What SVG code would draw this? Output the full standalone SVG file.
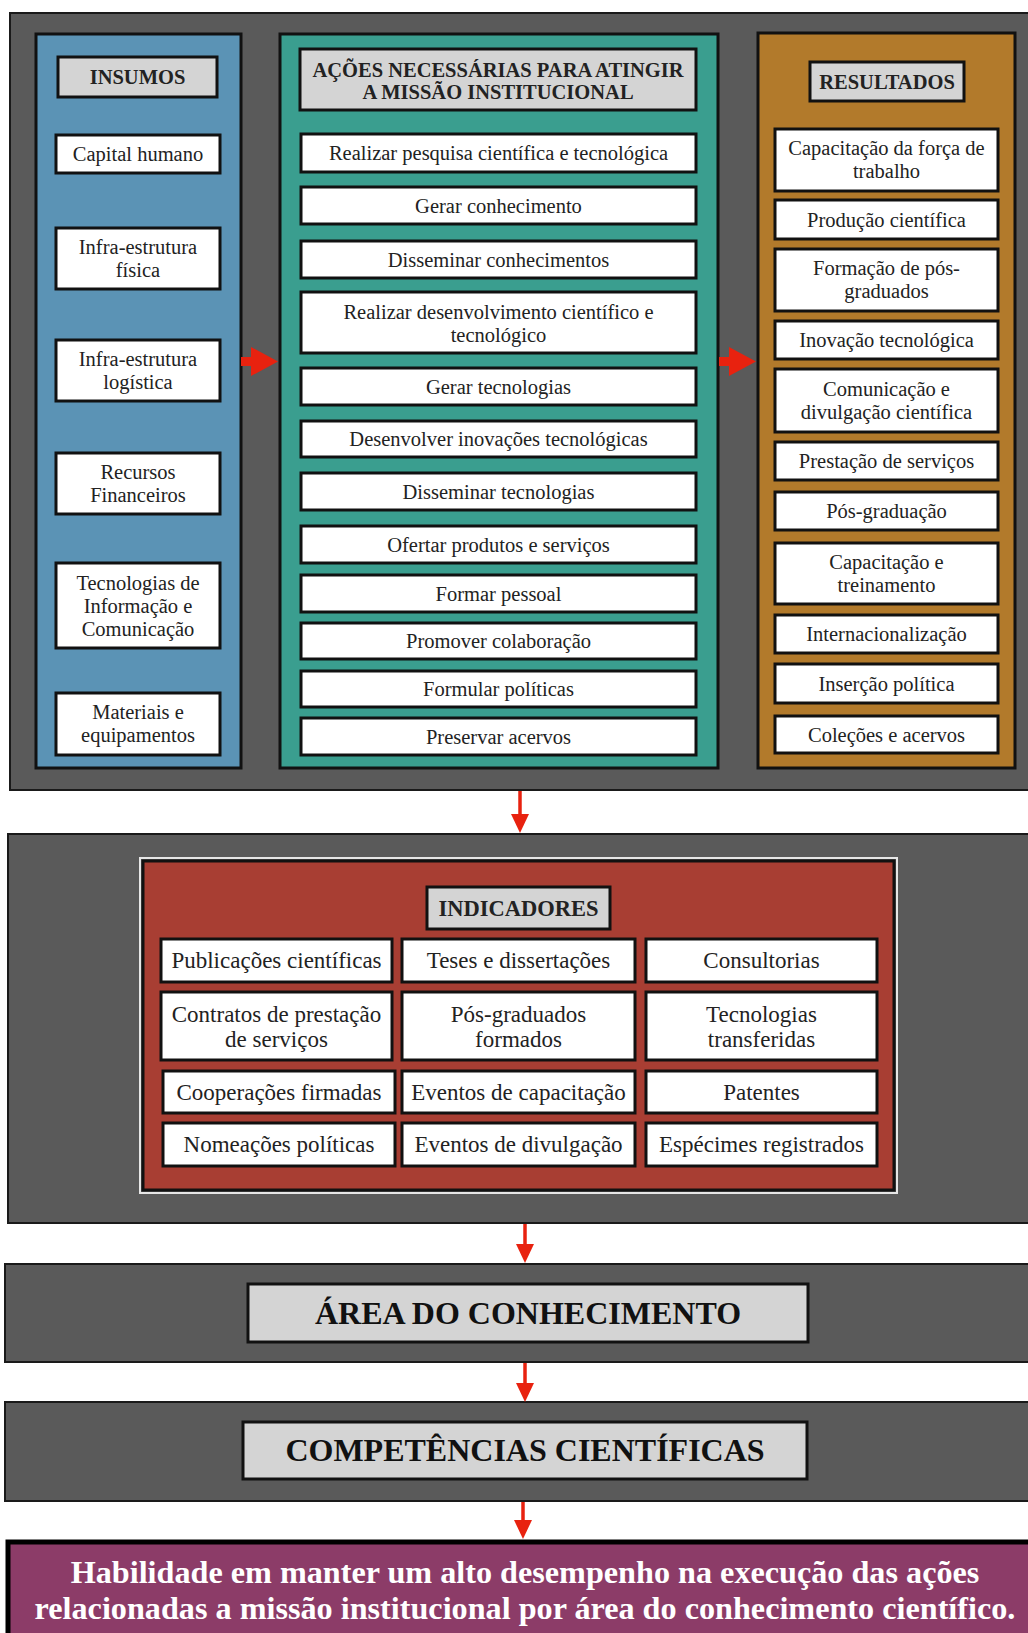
<svg xmlns="http://www.w3.org/2000/svg" width="1028" height="1633" viewBox="0 0 1028 1633">
<style>
.panel{fill:#5a5a5a;stroke:#1a1a1a;stroke-width:2}
.col{stroke:#111;stroke-width:3}
.box{fill:#fff;stroke:#111;stroke-width:3}
.hdr{fill:#d4d4d4;stroke:#111;stroke-width:3}
.t{font-family:"Liberation Serif","Times New Roman",serif;font-size:20.5px;fill:#222;text-anchor:middle}
.ti{font-family:"Liberation Serif","Times New Roman",serif;font-size:23px;fill:#222;text-anchor:middle}
.h{font-family:"Liberation Serif","Times New Roman",serif;font-size:20.5px;font-weight:bold;fill:#222;text-anchor:middle}
.hb{font-family:"Liberation Serif","Times New Roman",serif;font-size:32px;font-weight:bold;fill:#111;text-anchor:middle}
.w{font-family:"Liberation Serif","Times New Roman",serif;font-size:32.2px;font-weight:bold;fill:#fff;text-anchor:middle}
.arr{fill:#e8220f}
.ln{stroke:#e8220f;stroke-width:3.5}
</style>

<!-- Background panels -->
<g id="panel-top"><rect class="panel" x="10" y="13" width="1030" height="777"/></g>
<g id="panel-indicadores"><rect class="panel" x="8" y="834" width="1030" height="389"/></g>
<g id="panel-area"><rect class="panel" x="5" y="1264" width="1030" height="98"/></g>
<g id="panel-competencias"><rect class="panel" x="5" y="1402" width="1030" height="99"/></g>

<!-- INSUMOS -->
<g id="insumos">
<rect class="col" x="36" y="34" width="205" height="734" fill="#5b93b5"/>
<rect class="hdr" x="58" y="57" width="159" height="40"/>
<text class="h" x="137.5" y="84">INSUMOS</text>
<rect class="box" x="56" y="135" width="164" height="38"/>
<text class="t" x="138" y="161">Capital humano</text>
<rect class="box" x="56" y="228" width="164" height="61"/>
<text class="t" x="138" y="254">Infra-estrutura</text><text class="t" x="138" y="277">física</text>
<rect class="box" x="56" y="340" width="164" height="61"/>
<text class="t" x="138" y="366">Infra-estrutura</text><text class="t" x="138" y="389">logística</text>
<rect class="box" x="56" y="453" width="164" height="61"/>
<text class="t" x="138" y="479">Recursos</text><text class="t" x="138" y="502">Financeiros</text>
<rect class="box" x="56" y="563" width="164" height="85"/>
<text class="t" x="138" y="590">Tecnologias de</text><text class="t" x="138" y="613">Informação e</text><text class="t" x="138" y="636">Comunicação</text>
<rect class="box" x="56" y="693" width="164" height="62"/>
<text class="t" x="138" y="719">Materiais e</text><text class="t" x="138" y="742">equipamentos</text>
</g>

<!-- ACOES -->
<g id="acoes">
<rect class="col" x="280" y="34" width="438" height="734" fill="#3a9e8f"/>
<rect class="hdr" x="300" y="49" width="396" height="61"/>
<text class="h" x="498" y="77">AÇÕES NECESSÁRIAS PARA ATINGIR</text>
<text class="h" x="498" y="99">A MISSÃO INSTITUCIONAL</text>
<rect class="box" x="301" y="134" width="395" height="38"/>
<text class="t" x="498.5" y="160">Realizar pesquisa científica e tecnológica</text>
<rect class="box" x="301" y="187" width="395" height="37"/>
<text class="t" x="498.5" y="212.5">Gerar conhecimento</text>
<rect class="box" x="301" y="241" width="395" height="37"/>
<text class="t" x="498.5" y="266.5">Disseminar conhecimentos</text>
<rect class="box" x="301" y="292" width="395" height="61"/>
<text class="t" x="498.5" y="318.5">Realizar desenvolvimento científico e</text><text class="t" x="498.5" y="341.5">tecnológico</text>
<rect class="box" x="301" y="368" width="395" height="37"/>
<text class="t" x="498.5" y="393.5">Gerar tecnologias</text>
<rect class="box" x="301" y="421" width="395" height="36"/>
<text class="t" x="498.5" y="446">Desenvolver inovações tecnológicas</text>
<rect class="box" x="301" y="473" width="395" height="37"/>
<text class="t" x="498.5" y="498.5">Disseminar tecnologias</text>
<rect class="box" x="301" y="526" width="395" height="37"/>
<text class="t" x="498.5" y="551.5">Ofertar produtos e serviços</text>
<rect class="box" x="301" y="575" width="395" height="37"/>
<text class="t" x="498.5" y="600.5">Formar pessoal</text>
<rect class="box" x="301" y="623" width="395" height="36"/>
<text class="t" x="498.5" y="648">Promover colaboração</text>
<rect class="box" x="301" y="671" width="395" height="36"/>
<text class="t" x="498.5" y="696">Formular políticas</text>
<rect class="box" x="301" y="718" width="395" height="37"/>
<text class="t" x="498.5" y="743.5">Preservar acervos</text>
</g>

<!-- RESULTADOS -->
<g id="resultados">
<rect class="col" x="758" y="33" width="257" height="735" fill="#b27a2b"/>
<rect class="hdr" x="810" y="62" width="154" height="39"/>
<text class="h" x="887" y="88.5">RESULTADOS</text>
<rect class="box" x="775" y="129" width="223" height="62"/>
<text class="t" x="886.5" y="155">Capacitação da força de</text><text class="t" x="886.5" y="178">trabalho</text>
<rect class="box" x="775" y="200" width="223" height="39"/>
<text class="t" x="886.5" y="226.5">Produção científica</text>
<rect class="box" x="775" y="249" width="223" height="62"/>
<text class="t" x="886.5" y="275">Formação de pós-</text><text class="t" x="886.5" y="298">graduados</text>
<rect class="box" x="775" y="321" width="223" height="38"/>
<text class="t" x="886.5" y="347">Inovação tecnológica</text>
<rect class="box" x="775" y="369" width="223" height="63"/>
<text class="t" x="886.5" y="395.5">Comunicação e</text><text class="t" x="886.5" y="418.5">divulgação científica</text>
<rect class="box" x="775" y="442" width="223" height="38"/>
<text class="t" x="886.5" y="468">Prestação de serviços</text>
<rect class="box" x="775" y="492" width="223" height="38"/>
<text class="t" x="886.5" y="518">Pós-graduação</text>
<rect class="box" x="775" y="543" width="223" height="61"/>
<text class="t" x="886.5" y="569">Capacitação e</text><text class="t" x="886.5" y="592">treinamento</text>
<rect class="box" x="775" y="615" width="223" height="38"/>
<text class="t" x="886.5" y="641">Internacionalização</text>
<rect class="box" x="775" y="664" width="223" height="39"/>
<text class="t" x="886.5" y="690.5">Inserção política</text>
<rect class="box" x="775" y="716" width="223" height="37"/>
<text class="t" x="886.5" y="741.5">Coleções e acervos</text>
</g>

<!-- INDICADORES -->
<g id="indicadores">
<rect x="140" y="858" width="757" height="335" fill="none" stroke="#e6e6e6" stroke-width="2"/>
<rect class="col" x="143" y="861" width="751" height="329" fill="#a83e33"/>
<rect class="hdr" x="427" y="887" width="183" height="42"/>
<text class="h" x="518.5" y="916" style="font-size:22.5px">INDICADORES</text>
<rect class="box" x="161" y="939" width="231" height="43"/>
<text class="ti" x="276.5" y="968">Publicações científicas</text>
<rect class="box" x="402" y="939" width="233" height="43"/>
<text class="ti" x="518.5" y="968">Teses e dissertações</text>
<rect class="box" x="646" y="939" width="231" height="43"/>
<text class="ti" x="761.5" y="968">Consultorias</text>
<rect class="box" x="161" y="992" width="231" height="68"/>
<text class="ti" x="276.5" y="1021.5">Contratos de prestação</text><text class="ti" x="276.5" y="1046.5">de serviços</text>
<rect class="box" x="402" y="992" width="233" height="68"/>
<text class="ti" x="518.5" y="1021.5">Pós-graduados</text><text class="ti" x="518.5" y="1046.5">formados</text>
<rect class="box" x="646" y="992" width="231" height="68"/>
<text class="ti" x="761.5" y="1021.5">Tecnologias</text><text class="ti" x="761.5" y="1046.5">transferidas</text>
<rect class="box" x="163" y="1071" width="232" height="42"/>
<text class="ti" x="279" y="1100">Cooperações firmadas</text>
<rect class="box" x="402" y="1071" width="233" height="42"/>
<text class="ti" x="518.5" y="1100">Eventos de capacitação</text>
<rect class="box" x="646" y="1071" width="231" height="42"/>
<text class="ti" x="761.5" y="1100">Patentes</text>
<rect class="box" x="163" y="1123" width="232" height="43"/>
<text class="ti" x="279" y="1152">Nomeações políticas</text>
<rect class="box" x="402" y="1123" width="233" height="43"/>
<text class="ti" x="518.5" y="1152">Eventos de divulgação</text>
<rect class="box" x="646" y="1123" width="231" height="43"/>
<text class="ti" x="761.5" y="1152">Espécimes registrados</text>
</g>

<!-- AREA -->
<g id="area">
<rect class="hdr" x="248" y="1284" width="560" height="58"/>
<text class="hb" x="528" y="1324">ÁREA DO CONHECIMENTO</text>
</g>

<!-- COMPETENCIAS -->
<g id="competencias">
<rect class="hdr" x="243" y="1422" width="564" height="57"/>
<text class="hb" x="525" y="1461">COMPETÊNCIAS CIENTÍFICAS</text>
</g>

<!-- HABILIDADE -->
<g id="habilidade">
<rect x="8" y="1542" width="1030" height="100" fill="#8c3c68" stroke="#000" stroke-width="5"/>
<text class="w" x="525" y="1583">Habilidade em manter um alto desempenho na execução das ações</text>
<text class="w" x="525" y="1619">relacionadas a missão institucional por área do conhecimento científico.</text>
</g>

<!-- Connectors -->
<g id="connectors">
<polygon class="arr" points="241,357 251,357 251,347 278,361.5 251,376 251,366 241,366"/>
<polygon class="arr" points="719,357 729,357 729,347 756,361.5 729,376 729,366 719,366"/>
<line class="ln" x1="520" y1="791" x2="520" y2="816"/>
<polygon class="arr" points="511,814 529,814 520,833"/>
<line class="ln" x1="525" y1="1224" x2="525" y2="1246"/>
<polygon class="arr" points="516,1244 534,1244 525,1263"/>
<line class="ln" x1="525" y1="1363" x2="525" y2="1385"/>
<polygon class="arr" points="516,1383 534,1383 525,1402"/>
<line class="ln" x1="523" y1="1502" x2="523" y2="1522"/>
<polygon class="arr" points="514,1520 532,1520 523,1539"/>
</g>
</svg>
